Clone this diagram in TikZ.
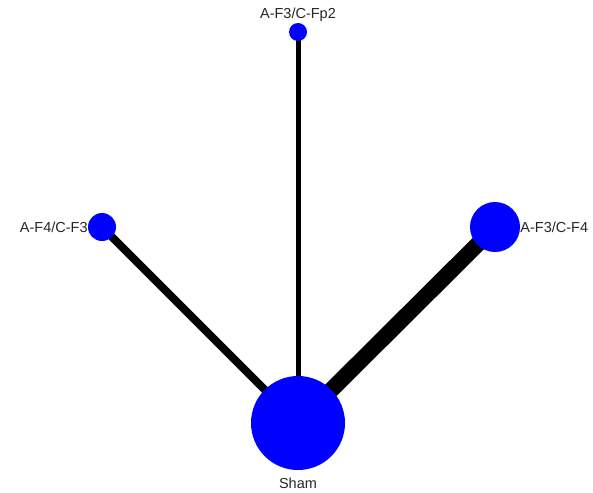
\documentclass[tikz,border=0pt]{standalone}
\usepackage{fontspec}
\setmainfont{Liberation Sans}
\usetikzlibrary{backgrounds}
\begin{document}
\begin{tikzpicture}[x=1pt,y=-1pt,
	arm/.style={draw=black},
	trt/.style={circle,fill=blue,inner sep=0pt},
	every label/.style={font=\fontsize{14.5}{17}\selectfont,text=black!85,inner sep=2pt}]

\useasboundingbox (0,0) rectangle (593,492);

\node[trt,minimum size=94] (sham) at (298,423) [label={[yshift=-6pt]below:Sham}] {};
\node[trt,minimum size=18] (fptwo) at (298,32) [label={[yshift=-1pt]above:A-F3/C-Fp2}] {};
\node[trt,minimum size=28] (ffour) at (102,227) [label={[xshift=2pt]left:A-F4/C-F3}] {};
\node[trt,minimum size=50] (fthree) at (495,227) [label={[xshift=-2pt]right:A-F3/C-F4}] {};

\begin{scope}[on background layer]
\draw[arm,line width=5pt] (fptwo.center) -- (sham.center);
\draw[arm,line width=8pt] (ffour.center) -- (sham.center);
\draw[arm,line width=16pt] (fthree.center) -- (sham.center);
\end{scope}

\end{tikzpicture}
\end{document}
